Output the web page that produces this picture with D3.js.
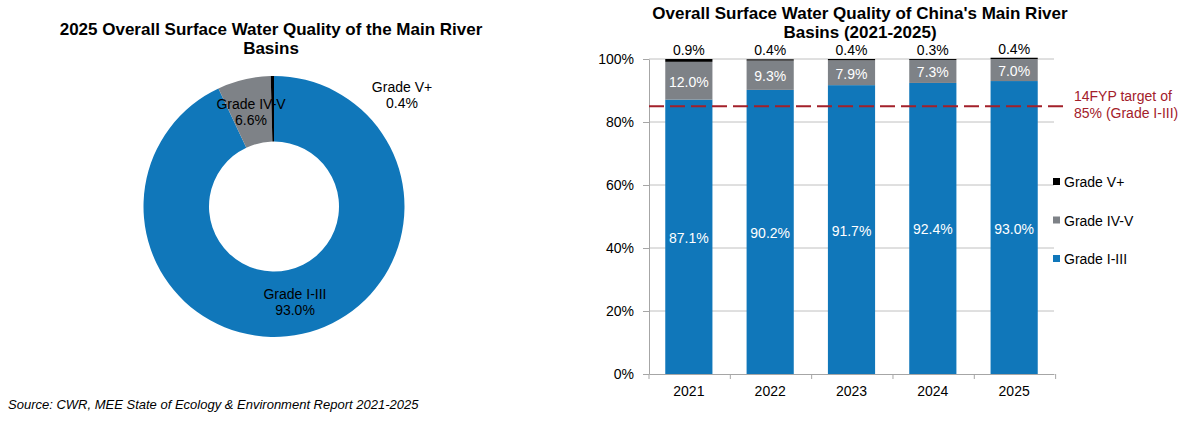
<!DOCTYPE html>
<html>
<head>
<meta charset="utf-8">
<script src="https://cdn.jsdelivr.net/npm/d3@7"></script>
<style>
  body { margin: 0; background: #fff; }
  svg { font-family: "Liberation Sans", Arial, sans-serif; }
  .title { font-weight: bold; font-size: 17px; fill: #000; }
  .axis text { font-size: 14px; fill: #000; }
</style>
</head>
<body>
<div id="chart"></div>
<script>
// DATA
const years = ["2021", "2022", "2023", "2024", "2025"];
const gradeI_III = [87.1, 90.2, 91.7, 92.4, 93.0];
const gradeIV_V = [12.0, 9.3, 7.9, 7.3, 7.0];
const gradeVplus = [0.9, 0.4, 0.4, 0.3, 0.4];
const pieNames = ["Grade I-III", "Grade IV-V", "Grade V+"];
const pieShares = [93.0, 6.6, 0.4];
const target = 85;
const yTicks = [0, 20, 40, 60, 80, 100];

const colors = {"Grade I-III": "#1077BA", "Grade IV-V": "#7E8287", "Grade V+": "#000000"};

const width = 1202, height = 433;
const svg = d3.select("#chart").append("svg")
    .attr("width", width)
    .attr("height", height);

//////////// DONUT

svg.append("text").attr("class", "title")
    .attr("x", 271).attr("y", 35).attr("text-anchor", "middle")
    .text("2025 Overall Surface Water Quality of the Main River");
svg.append("text").attr("class", "title")
    .attr("x", 271).attr("y", 54).attr("text-anchor", "middle")
    .text("Basins");

const pieData = pieNames.map(function(n, i) { return {name: n, share: pieShares[i]}; });
const pie = d3.pie().sort(null).value(function(d) { return d.share; });
const arcGen = d3.arc().innerRadius(65).outerRadius(130.5);

const g = svg.append("g").attr("transform", "translate(274,206.5)");
g.selectAll("path")
    .data(pie(pieData))
    .enter()
    .append("path")
    .attr("d", arcGen)
    .attr("fill", function(d) { return colors[d.data.name]; });

// label offsets relative to center
const pieLabelPos = {"Grade I-III": [21, 92.5], "Grade IV-V": [-23, -97.5], "Grade V+": [128, -114.5]};
pieData.forEach(function(d) {
    const p = pieLabelPos[d.name];
    const t = g.append("text")
        .attr("text-anchor", "middle")
        .attr("font-size", 14)
        .attr("fill", "#000");
    t.append("tspan").attr("x", p[0]).attr("y", p[1]).text(d.name);
    t.append("tspan").attr("x", p[0]).attr("y", p[1] + 16).text(d3.format(".1f")(d.share) + "%");
});

svg.append("text")
    .attr("x", 8).attr("y", 409)
    .attr("font-size", 13)
    .attr("font-style", "italic")
    .text("Source: CWR, MEE State of Ecology & Environment Report 2021-2025");

//////////// STACKED BARS

svg.append("text").attr("class", "title")
    .attr("x", 860).attr("y", 19).attr("text-anchor", "middle")
    .text("Overall Surface Water Quality of China's Main River");
svg.append("text").attr("class", "title")
    .attr("x", 860).attr("y", 38).attr("text-anchor", "middle")
    .text("Basins (2021-2025)");

const margin = {left: 649, right: 1054, top: 59, bottom: 374};

const xScale = d3.scaleBand()
    .domain(years)
    .range([margin.left, margin.right])
    .paddingInner(0.42)
    .paddingOuter(0.2);

const yScale = d3.scaleLinear()
    .domain([0, 100])
    .range([margin.bottom, margin.top]);

// gridlines
svg.append("g")
    .selectAll("line")
    .data(yTicks.slice(1))
    .enter()
    .append("line")
    .attr("x1", margin.left).attr("x2", margin.right)
    .attr("y1", function(d) { return yScale(d); })
    .attr("y2", function(d) { return yScale(d); })
    .attr("stroke", "#C0C0C0");

const yAxis = svg.append("g")
    .attr("class", "axis")
    .attr("transform", `translate(${margin.left},0)`)
    .call(d3.axisLeft(yScale).tickValues(yTicks).tickSize(6).tickSizeOuter(0)
        .tickFormat(function(d) { return d + "%"; }));
yAxis.select(".domain").attr("stroke", "#A6A6A6");
yAxis.selectAll(".tick line").attr("stroke", "#A6A6A6");
yAxis.selectAll(".tick text").attr("x", -15).attr("dy", "0.35em");

const xAxis = svg.append("g")
    .attr("class", "axis")
    .attr("transform", `translate(0,${margin.bottom})`)
    .call(d3.axisBottom(xScale).tickSize(0).tickSizeOuter(0));
xAxis.select(".domain").attr("stroke", "#A6A6A6");
xAxis.selectAll(".tick text").attr("y", 0).attr("dy", 22);

// category boundary ticks
const step = xScale.step();
const x0 = xScale(years[0]) - xScale.paddingOuter() * step;
svg.append("g")
    .selectAll("line")
    .data(d3.range(years.length + 1))
    .enter()
    .append("line")
    .attr("x1", function(i) { return x0 + i * step; })
    .attr("x2", function(i) { return x0 + i * step; })
    .attr("y1", margin.bottom)
    .attr("y2", margin.bottom + 5)
    .attr("stroke", "#A6A6A6");

const barData = years.map(function(y, i) {
    return {year: y, "Grade I-III": gradeI_III[i], "Grade IV-V": gradeIV_V[i], "Grade V+": gradeVplus[i]};
});
const keys = ["Grade I-III", "Grade IV-V", "Grade V+"];
const stacked = d3.stack().keys(keys)(barData);

svg.append("g")
    .selectAll("g")
    .data(stacked)
    .enter()
    .append("g")
    .attr("fill", function(d) { return colors[d.key]; })
    .selectAll("rect")
    .data(function(d) { return d; })
    .enter()
    .append("rect")
    .attr("x", function(d) { return xScale(d.data.year); })
    .attr("y", function(d) { return yScale(d[1]); })
    .attr("width", xScale.bandwidth())
    .attr("height", function(d) { return yScale(d[0]) - yScale(d[1]); });

// labels on segments
stacked.forEach(function(layer) {
    layer.forEach(function(d) {
        const v = d.data[layer.key];
        const cx = xScale(d.data.year) + xScale.bandwidth() / 2;
        let y, fill;
        if (layer.key === "Grade V+") {
            y = yScale(d[1]) - 4;
            fill = "#000";
        } else {
            y = yScale((d[0] + d[1]) / 2) + 6;
            fill = "#fff";
        }
        svg.append("text")
            .attr("x", cx).attr("y", y)
            .attr("text-anchor", "middle")
            .attr("font-size", 14)
            .attr("fill", fill)
            .text(d3.format(".1f")(v) + "%");
    });
});

// target line
svg.append("line")
    .attr("x1", margin.left).attr("x2", 1063)
    .attr("y1", yScale(target)).attr("y2", yScale(target))
    .attr("stroke", "#A3202A")
    .attr("stroke-width", 2)
    .attr("stroke-dasharray", "15,6");

const tl = svg.append("text").attr("font-size", 14).attr("fill", "#A3202A");
tl.append("tspan").attr("x", 1074).attr("y", 101).text("14FYP target of");
tl.append("tspan").attr("x", 1074).attr("y", 118).text("85% (Grade I-III)");

// legend
const legendKeys = ["Grade V+", "Grade IV-V", "Grade I-III"];
const legend = svg.append("g")
    .selectAll("g")
    .data(legendKeys)
    .enter()
    .append("g")
    .attr("transform", function(d, i) { return `translate(1053,${182 + i * 38.5})`; });
legend.append("rect")
    .attr("x", 0).attr("y", -4)
    .attr("width", 7).attr("height", 7)
    .attr("fill", function(d) { return colors[d]; });
legend.append("text")
    .attr("x", 11).attr("y", 5)
    .attr("font-size", 14)
    .text(function(d) { return d; });
</script>
</body>
</html>
